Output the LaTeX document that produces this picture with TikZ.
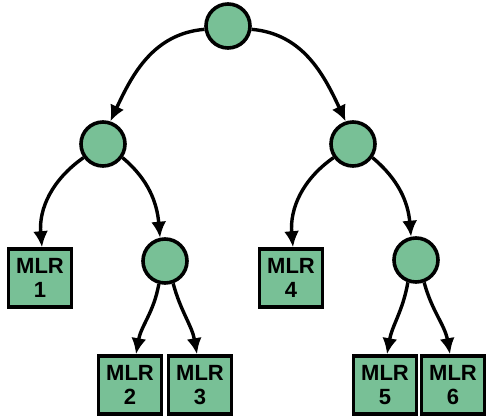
\documentclass[tikz,border=0pt]{standalone}
\usepackage{fontspec}
\setmainfont{Liberation Sans}
\usetikzlibrary{arrows.meta}
\definecolor{nodegreen}{RGB}{120,192,150}
\tikzset{
  treenode/.style={circle, draw=black, fill=nodegreen, line width=3.6pt, minimum size=44pt, inner sep=0pt},
  leafbox/.style={rectangle, draw=black, fill=nodegreen, line width=3.6pt, minimum width=63pt, minimum height=58pt, inner sep=0pt, align=center, font=\fontsize{22}{23.5}\selectfont\bfseries},
  conn/.style={line width=3.4pt, -{Latex[length=16pt,width=15pt]}}
}
\begin{document}
\begin{tikzpicture}[x=1pt,y=-1pt]
\useasboundingbox (0,0) rectangle (486,419);
\node[treenode] (root) at (228,26) {};
\node[treenode] (L) at (103,144) {};
\node[treenode] (R) at (353,144) {};
\node[treenode] (LL) at (165,261) {};
\node[treenode] (RR) at (416,260) {};
\node[leafbox] (m1) at (40,278) {MLR\\1};
\node[leafbox] (m4) at (291,278) {MLR\\4};
\node[leafbox] (m2) at (130,385) {MLR\\2};
\node[leafbox] (m3) at (200,385) {MLR\\3};
\node[leafbox] (m5) at (385,385) {MLR\\5};
\node[leafbox] (m6) at (453,385) {MLR\\6};
\draw[conn] (root.188) to[out=185,in=65] (L.72);
\draw[conn] (root.-8) to[out=-5,in=115] (R.108);
\draw[conn] (L.215) to[out=215,in=95] ([xshift=2pt]m1.north);
\draw[conn] (L.-35) to[out=-40,in=95] (LL.102);
\draw[conn] (R.215) to[out=215,in=95] ([xshift=2pt]m4.north);
\draw[conn] (R.-35) to[out=-40,in=95] (RR.102);
\draw[conn] (LL.-105) to[out=-100,in=80] ([xshift=6pt]m2.north);
\draw[conn] (LL.-70) to[out=-75,in=100] ([xshift=-3pt]m3.north);
\draw[conn] (RR.-110) to[out=-100,in=80] ([xshift=2pt]m5.north);
\draw[conn] (RR.-70) to[out=-75,in=100] ([xshift=-3pt]m6.north);
\end{tikzpicture}
\end{document}
